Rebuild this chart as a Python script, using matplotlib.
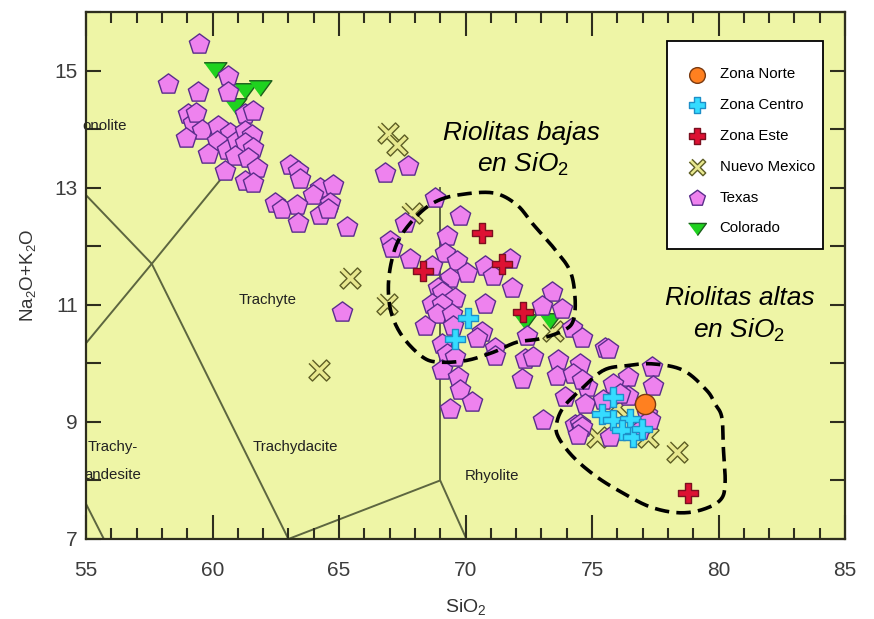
import numpy as np
import matplotlib
matplotlib.use("Agg")
import matplotlib.pyplot as plt
from matplotlib.patches import Rectangle
from matplotlib.ticker import MultipleLocator, FuncFormatter

plt.rcParams["font.family"] = ["Liberation Sans", "DejaVu Sans"]
plt.rcParams["mathtext.fontset"] = "custom"
plt.rcParams["mathtext.rm"] = "Liberation Sans"
plt.rcParams["mathtext.it"] = "Liberation Sans:italic"
plt.rcParams["mathtext.default"] = "rm"

# --- datos (SiO2 vs Na2O+K2O) ---
TEXAS_SIO2 = [59.48, 58.25, 59.44, 60.63, 60.63, 61.29, 61.59, 59.04, 59.24, 59.35,
              59.57, 58.95, 60.23, 60.69, 60.17, 60.56, 59.83, 60.96, 61.29, 61.55,
              61.29, 61.61, 60.89, 61.42, 61.75, 60.49, 61.29, 61.61, 63.06, 63.39,
              63.46, 64.25, 64.78, 63.99, 64.65, 62.47, 62.74, 63.33, 64.25, 64.58,
              63.39, 65.31, 66.82, 67.74, 65.11, 67.61, 67.02, 67.08, 67.81, 68.80,
              69.78, 69.26, 69.19, 69.65, 68.67, 69.39, 70.05, 70.77, 71.10, 71.76,
              71.83, 68.93, 69.06, 69.59, 70.77, 68.67, 69.06, 68.86, 69.46, 68.40,
              69.52, 70.64, 70.44, 69.06, 71.17, 71.17, 69.26, 69.59, 69.06, 69.72,
              69.78, 70.25, 69.39, 73.41, 73.01, 73.80, 74.20, 74.60, 72.42, 72.35,
              72.68, 72.22, 73.67, 74.53, 73.61, 74.26, 75.52, 75.65, 74.79, 73.93,
              74.73, 73.08, 74.33, 74.53, 77.36, 76.44, 77.43, 75.84, 74.60, 75.45,
              76.44, 77.16, 74.60, 75.71, 76.90, 74.46, 76.11, 77.30]
TEXAS_ALK = [15.46, 14.77, 14.63, 14.91, 14.63, 14.26, 14.31, 14.25, 14.10, 14.27,
             13.99, 13.85, 14.06, 13.93, 13.79, 13.65, 13.57, 13.79, 13.96, 13.90,
             13.76, 13.68, 13.54, 13.51, 13.34, 13.28, 13.11, 13.08, 13.39, 13.28,
             13.14, 13.00, 13.05, 12.88, 12.74, 12.74, 12.63, 12.71, 12.54, 12.63,
             12.40, 12.32, 13.25, 13.37, 10.87, 12.40, 12.09, 11.97, 11.78, 12.82,
             12.51, 12.17, 11.89, 11.75, 11.66, 11.46, 11.55, 11.66, 11.49, 11.78,
             11.29, 11.29, 11.21, 11.12, 11.01, 11.01, 11.01, 10.84, 10.84, 10.64,
             10.64, 10.53, 10.44, 10.33, 10.27, 10.13, 10.16, 10.10, 9.88, 9.76,
             9.54, 9.34, 9.22, 11.21, 10.98, 10.93, 10.61, 10.44, 10.47, 10.08,
             10.10, 9.74, 10.05, 9.99, 9.79, 9.82, 10.27, 10.25, 9.59, 9.42,
             9.31, 9.03, 8.94, 8.97, 9.93, 9.76, 9.62, 9.65, 9.71, 9.37,
             9.45, 9.14, 8.91, 8.74, 8.86, 8.77, 9.48, 9.03]

COLORADO_SIO2 = [60.10, 61.29, 61.88, 60.89, 72.35, 73.34]
COLORADO_ALK = [15.01, 14.65, 14.70, 14.39, 10.70, 10.73]

NMEX_SIO2 = [66.95, 67.28, 65.44, 66.89, 67.87, 64.22, 73.47, 75.19, 78.35, 77.23, 75.98]
NMEX_ALK = [13.93, 13.73, 11.46, 11.01, 12.57, 9.89, 10.56, 8.74, 8.49, 8.74, 9.25]

ESTE_SIO2 = [68.33, 70.64, 71.43, 72.29, 78.81]
ESTE_ALK = [11.58, 12.23, 11.69, 10.87, 7.78]

CENTRO_SIO2 = [70.11, 69.59, 75.84, 75.39, 75.84, 76.50, 76.18, 76.64, 76.97]
CENTRO_ALK = [10.78, 10.42, 9.42, 9.14, 9.03, 9.05, 8.86, 8.74, 8.88]

NORTE_SIO2 = [77.10]
NORTE_ALK = [9.30]

# limites del diagrama TAS (Le Bas et al.)
TAS_LINES = [
    ([52.5, 57.6, 63.0], [14.0, 11.7, 7.0]),
    ([57.6, 61.0], [11.7, 13.5]),
    ([53.0, 57.6], [9.3, 11.7]),
    ([53.0, 57.0], [9.3, 5.9]),
    ([63.0, 69.0, 77.3], [7.0, 8.0, 0.0]),
    ([69.0, 69.0], [8.0, 13.0]),
]

# contornos a mano alzada
BAJAS_SIO2 = [68.86, 69.78, 71.10, 72.02, 72.68, 73.47, 74.13, 74.33, 74.26, 73.87, 72.94,
              72.02, 71.10, 70.05, 68.99, 68.33, 67.54, 67.08, 66.95, 67.08, 67.41, 68.13]
BAJAS_ALK = [12.77, 12.88, 12.91, 12.71, 12.37, 11.98, 11.58, 11.12, 10.73, 10.56, 10.42,
             10.36, 10.19, 10.05, 10.02, 10.10, 10.44, 10.84, 11.29, 11.75, 12.15, 12.54]
ALTAS_SIO2 = [75.45, 76.37, 77.42, 78.61, 79.53, 79.86, 80.13, 80.19, 80.26, 80.06,
              79.27, 78.35, 77.29, 76.24, 75.19, 74.26, 73.67, 73.60, 73.87, 74.53]
ALTAS_ALK = [9.88, 9.96, 9.99, 9.88, 9.54, 9.31, 9.08, 8.57, 7.95, 7.66,
             7.49, 7.45, 7.55, 7.78, 8.06, 8.40, 8.74, 8.97, 9.25, 9.54]

FIELD_LABELS = ["onolite", "Trachyte", "Trachy-", "andesite", "Trachydacite", "Rhyolite"]
FIELD_POS = [(54.85, 14.06, "left"), (62.19, 11.08, "center"), (55.08, 8.57, "left"),
             (54.95, 8.09, "left"), (63.26, 8.57, "center"), (71.05, 8.07, "center")]

BG = "#eef5a6"


def closed_spline(xs, ys, n=16):
    # Catmull-Rom cerrada
    p = np.column_stack([xs, ys])
    m = len(p)
    t = np.linspace(0, 1, n, endpoint=False)[:, None]
    segs = []
    for i in range(m):
        p0, p1, p2, p3 = p[i - 1], p[i], p[(i + 1) % m], p[(i + 2) % m]
        segs.append(0.5 * (2 * p1 + (-p0 + p2) * t + (2 * p0 - 5 * p1 + 4 * p2 - p3) * t ** 2
                           + (-p0 + 3 * p1 - 3 * p2 + p3) * t ** 3))
    out = np.vstack(segs + [segs[0][:1]])
    return out[:, 0], out[:, 1]


def x_marker(a=0.2):
    # cruz en aspa con brazos finos
    plus = np.array([(a, 1), (a, a), (1, a), (1, -a), (a, -a), (a, -1), (-a, -1),
                     (-a, -a), (-1, -a), (-1, a), (-a, a), (-a, 1)])
    c = s = np.sqrt(0.5)
    rot = np.array([[c, -s], [s, c]])
    return [tuple(v) for v in plus @ rot.T]


fig = plt.figure(figsize=(8.74, 6.19), dpi=100)
fig.patch.set_facecolor("white")
ax = fig.add_axes([86 / 874, 80 / 619, 759 / 874, 527 / 619])
ax.set_facecolor(BG)
ax.set_xlim(55, 85)
ax.set_ylim(7, 16)

for xs, ys in TAS_LINES:
    ax.plot(xs, ys, color="#5d6640", lw=1.4, zorder=1)

for txt, (x, y, ha) in zip(FIELD_LABELS, FIELD_POS):
    ax.text(x, y, txt, ha=ha, va="center", fontsize=10.8, color="#222222", zorder=2)

tri = [(-1, 0.68), (1, 0.68), (0, -0.68)]
h_nm = ax.scatter(NMEX_SIO2, NMEX_ALK, marker=x_marker(), s=230, c="#e8e88e",
                  edgecolors="#5e5e26", linewidths=1.0, zorder=3, label="Nuevo Mexico")
h_co = ax.scatter(COLORADO_SIO2, COLORADO_ALK, marker=tri, s=270, c="#1fd21f",
                  edgecolors="#1d5e1d", linewidths=1.0, zorder=4, label="Colorado")
h_tx = ax.scatter(TEXAS_SIO2, TEXAS_ALK, marker="p", s=235, c="#ee82ee",
                  edgecolors="#5a2d8c", linewidths=1.0, zorder=5, label="Texas")
h_es = ax.scatter(ESTE_SIO2, ESTE_ALK, marker="P", s=200, c="#dd1133",
                  edgecolors="#7a1020", linewidths=1.0, zorder=6, label="Zona Este")
h_ce = ax.scatter(CENTRO_SIO2, CENTRO_ALK, marker="P", s=220, c="#35dcff",
                  edgecolors="#1e8fc8", linewidths=1.0, zorder=7, label="Zona Centro")
h_no = ax.scatter(NORTE_SIO2, NORTE_ALK, marker="o", s=210, c="#ff8020",
                  edgecolors="#7a3a10", linewidths=1.0, zorder=8, label="Zona Norte")

for xs, ys in [(BAJAS_SIO2, BAJAS_ALK), (ALTAS_SIO2, ALTAS_ALK)]:
    cx, cy = closed_spline(xs, ys)
    ax.plot(cx, cy, color="black", lw=2.6, ls=(0, (4, 2)), zorder=9)

ax.text(72.20, 13.93, "Riolitas bajas", fontsize=19, style="italic", ha="center", va="center", zorder=10)
ax.text(72.27, 13.40, "en SiO$_\\mathit{2}$", fontsize=19, style="italic", ha="center", va="center", zorder=10)
ax.text(80.85, 11.12, "Riolitas altas", fontsize=19, style="italic", ha="center", va="center", zorder=10)
ax.text(80.81, 10.56, "en SiO$_\\mathit{2}$", fontsize=19, style="italic", ha="center", va="center", zorder=10)

# ejes
for sp in ax.spines.values():
    sp.set_color("#2e2e1e")
    sp.set_linewidth(1.6)
ax.xaxis.set_major_locator(MultipleLocator(5))
ax.xaxis.set_minor_locator(MultipleLocator(1))
ax.yaxis.set_major_locator(MultipleLocator(1))
ax.yaxis.set_major_formatter(FuncFormatter(lambda v, p: f"{v:.0f}" if int(round(v)) % 2 == 1 else ""))
ax.tick_params(axis="x", which="major", direction="in", length=17, width=1.5, top=True,
               labelsize=15, labelcolor="#3c3c3c", pad=16, color="#2e2e1e")
ax.tick_params(axis="x", which="minor", direction="in", length=8, width=1.5, top=True, color="#2e2e1e")
ax.tick_params(axis="y", which="major", direction="in", length=11, width=1.5, right=True,
               labelsize=15, labelcolor="#3c3c3c", pad=6, color="#2e2e1e")
ax.set_xlabel("SiO$_2$", fontsize=14, color="#333333", labelpad=12)
ax.set_ylabel("Na$_2$O+K$_2$O", fontsize=13.5, color="#333333", labelpad=12)

# leyenda
fig.patches.append(Rectangle((667 / 874, 1 - 249 / 619), 156 / 874, 208 / 619,
                             transform=fig.transFigure, facecolor="white",
                             edgecolor="black", linewidth=1.3, zorder=20))
leg = fig.legend([h_no, h_ce, h_es, h_nm, h_tx, h_co],
                 ["Zona Norte", "Zona Centro", "Zona Este", "Nuevo Mexico", "Texas", "Colorado"],
                 loc="upper left", bbox_to_anchor=(676 / 874, 1 - 60 / 619), frameon=False,
                 borderpad=0, fontsize=10.8, labelspacing=1.12, handlelength=1.8,
                 handletextpad=0.6, markerscale=0.78, scatterpoints=1)
leg.set_zorder(21)

fig.savefig("out.png", dpi=100, facecolor="white")
